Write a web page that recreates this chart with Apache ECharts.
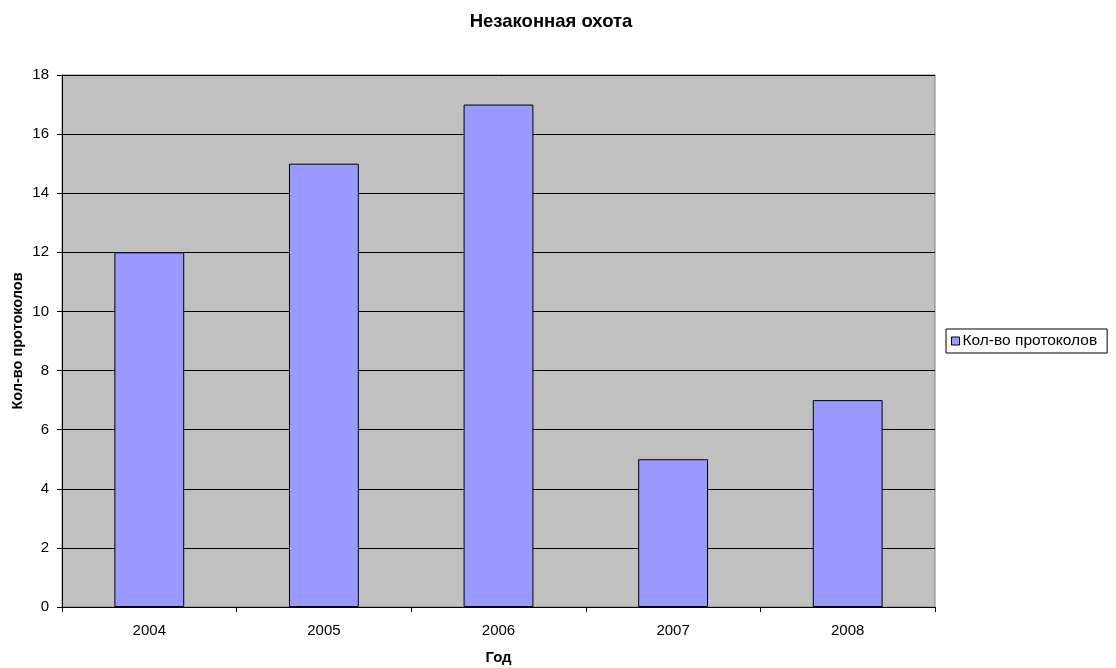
<!DOCTYPE html>
<html>
<head>
<meta charset="utf-8">
<script src="https://cdn.jsdelivr.net/npm/echarts@6/dist/echarts.min.js"></script>
<style>
  html, body { margin: 0; padding: 0; background: #fff; }
  #chart { width: 1116px; height: 668px; }
</style>
</head>
<body>
<div id="chart"></div>
<script>
// Годы и количество протоколов
const years = ['2004', '2005', '2006', '2007', '2008'];
const protocols = [12, 15, 17, 5, 7];
const seriesName = 'Кол-во протоколов';

const chart = echarts.init(document.getElementById('chart'));
const font = 'Arial, "Liberation Sans", sans-serif';

chart.setOption({
  animation: false,
  backgroundColor: '#ffffff',
  title: {
    text: 'Незаконная охота',
    left: 546,
    textAlign: 'center',
    top: 7,
    textStyle: { fontFamily: font, fontSize: 18.5, fontWeight: 'bold', color: '#000' }
  },
  legend: {
    data: [seriesName],
    left: 946,
    top: 329,
    orient: 'vertical',
    icon: 'rect',
    itemWidth: 8,
    itemHeight: 8,
    itemGap: 0,
    padding: [4, 10, 4, 5],
    borderColor: '#000',
    borderWidth: 1,
    backgroundColor: '#fff',
    textStyle: { fontFamily: font, fontSize: 15.5, color: '#000', padding: [0, 0, 0, -2] },
    itemStyle: { borderColor: '#000', borderWidth: 1 }
  },
  grid: {
    left: 62,
    right: 1116 - 935,
    top: 75,
    bottom: 668 - 607,
    outerBoundsMode: 'none',
    show: true,
    backgroundColor: '#c0c0c0',
    borderColor: '#808080',
    borderWidth: 1
  },
  xAxis: {
    type: 'category',
    data: years,
    name: 'Год',
    nameLocation: 'middle',
    nameGap: 43,
    nameMoveOverlap: false,
    nameTextStyle: { fontFamily: font, fontSize: 15, fontWeight: 'bold', color: '#000' },
    axisLine: { lineStyle: { color: '#000', width: 1 } },
    axisTick: { show: true, alignWithLabel: false, length: 5, lineStyle: { color: '#000' } },
    axisLabel: { fontFamily: font, fontSize: 15, color: '#000', margin: 16 },
    splitLine: { show: false }
  },
  yAxis: {
    type: 'value',
    min: 0,
    max: 18,
    interval: 2,
    name: 'Кол-во протоколов',
    nameLocation: 'middle',
    nameGap: 37,
    nameMoveOverlap: false,
    nameTextStyle: { fontFamily: font, fontSize: 14.5, fontWeight: 'bold', color: '#000' },
    axisLine: { show: true, lineStyle: { color: '#000', width: 1 } },
    axisTick: { show: true, length: 5, lineStyle: { color: '#000' } },
    axisLabel: { fontFamily: font, fontSize: 15, color: '#000', margin: 13 },
    splitLine: { show: true, lineStyle: { color: '#000', width: 1 } }
  },
  series: [{
    name: seriesName,
    type: 'bar',
    data: protocols,
    barWidth: '40%',
    itemStyle: { color: '#9999ff', borderColor: '#000', borderWidth: 1 }
  }]
});
</script>
</body>
</html>
